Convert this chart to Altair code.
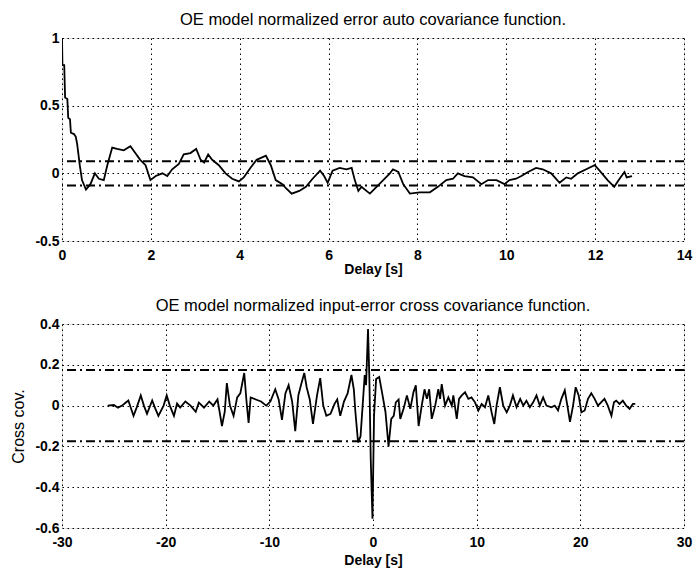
import altair as alt
import pandas as pd

# Auto covariance of the OE model residuals (delay in seconds, normalized value)
auto_delay = [0.0, 0.01, 0.05, 0.07, 0.12, 0.14, 0.18, 0.2, 0.27, 0.31, 0.34, 0.4, 0.45,
              0.54, 0.64, 0.74, 0.83, 0.94, 1.02, 1.13, 1.24, 1.39, 1.54, 1.65, 1.76,
              1.88, 1.99, 2.11, 2.26, 2.37, 2.48, 2.63, 2.74, 2.89, 3.02, 3.12, 3.2,
              3.29, 3.38, 3.53, 3.68, 3.83, 3.98, 4.09, 4.24, 4.38, 4.59, 4.7, 4.81,
              4.96, 5.04, 5.17, 5.34, 5.49, 5.64, 5.81, 5.9, 5.98, 6.09, 6.25, 6.4,
              6.52, 6.59, 6.67, 6.74, 6.93, 7.08, 7.23, 7.38, 7.45, 7.57, 7.68, 7.83,
              8.05, 8.28, 8.46, 8.65, 8.8, 8.91, 9.06, 9.25, 9.44, 9.59, 9.78, 9.96,
              10.07, 10.22, 10.34, 10.49, 10.67, 10.82, 11.01, 11.2, 11.35, 11.46,
              11.61, 11.8, 11.99, 12.1, 12.28, 12.43, 12.55, 12.66, 12.71, 12.83]
auto_value = [1.0, 0.8, 0.8, 0.56, 0.55, 0.41, 0.4, 0.3, 0.29, 0.27, 0.22, 0.06, -0.05,
              -0.12, -0.08, 0.0, -0.04, -0.05, 0.06, 0.19, 0.18, 0.17, 0.2, 0.15, 0.1,
              0.06, -0.05, -0.02, 0.0, -0.02, 0.03, 0.07, 0.14, 0.15, 0.18, 0.1, 0.08,
              0.14, 0.1, 0.06, 0.0, -0.04, -0.06, -0.03, 0.04, 0.1, 0.13, 0.06, -0.05,
              -0.08, -0.11, -0.15, -0.13, -0.1, -0.04, 0.02, -0.02, -0.07, 0.02, 0.04, 0.03,
              0.04, -0.05, -0.13, -0.1, -0.15, -0.1, -0.05, 0.0, 0.03, 0.01, -0.08, -0.15,
              -0.14, -0.14, -0.1, -0.05, -0.04, 0.0, -0.02, -0.03, -0.08, -0.05, -0.05, -0.08,
              -0.05, -0.04, -0.02, 0.01, 0.04, 0.03, 0.0, -0.07, -0.03, -0.04,
              0.0, 0.03, 0.06, 0.02, -0.05, -0.1, -0.04, 0.01, -0.03, -0.02]

# Input-error cross covariance
cross_delay = [-25.6, -25.0, -24.6, -24.2, -23.9, -23.6, -23.3, -23.1, -22.8, -22.4, -22.1,
               -21.8, -21.3, -21.0, -20.7, -20.2, -19.9, -19.6, -19.2, -18.9, -18.6, -18.1,
               -17.6, -17.1, -16.8, -16.3, -15.8, -15.4, -15.0, -14.8, -14.57, -14.3, -14.1,
               -13.8, -13.45, -13.1, -12.8, -12.42, -12.2, -12.0, -11.8, -11.3, -10.8, -10.3,
               -9.9, -9.43, -9.1, -8.78, -8.45, -8.14, -7.8, -7.5, -7.2, -6.9, -6.63, -6.4,
               -6.1, -5.79, -5.4, -5.09, -4.8, -4.5, -4.1, -3.7, -3.45, -3.16, -2.8, -2.45,
               -2.08, -1.85, -1.7, -1.44, -1.2, -1.0, -0.8, -0.67, -0.48, -0.35, -0.22,
               -0.05, 0.1, 0.3, 0.6, 0.87, 1.2, 1.5, 1.76, 2.0, 2.2, 2.47, 2.63, 2.95, 3.27,
               3.6, 3.9, 4.13, 4.4, 4.7, 4.97, 5.2, 5.42, 5.67, 6.0, 6.3, 6.47, 6.63, 6.95,
               7.27, 7.6, 7.75, 8.08, 8.3, 8.56, 8.88, 9.2, 9.5, 9.84, 10.16, 10.48, 10.8,
               11.12, 11.44, 11.7, 11.92, 12.24, 12.56, 12.9, 13.2, 13.5, 13.85, 14.2, 14.5,
               14.8, 15.13, 15.45, 15.77, 16.09, 16.41, 16.73, 17.2, 17.53, 17.85, 18.17,
               18.5, 18.75, 19.0, 19.3, 19.55, 19.84, 20.1, 20.42, 20.74, 21.06, 21.38, 21.7,
               22.0, 22.33, 22.65, 23.0, 23.24, 23.46, 23.78, 24.1, 24.42, 24.75, 25.07, 25.3]
cross_value = [0.0, 0.003, -0.01, 0.0, 0.013, 0.025, -0.02, -0.05, -0.01, 0.05, 0.0,
               -0.04, 0.025, -0.015, -0.05, 0.0, 0.05, 0.0, -0.05, 0.01, -0.01, 0.02,
               0.0, -0.03, 0.015, -0.01, 0.02, 0.0, 0.03, -0.03, -0.1, -0.03, 0.11,
               0.0, -0.05, 0.04, 0.06, 0.16, 0.02, -0.085, 0.04, 0.03, 0.02, 0.0,
               0.02, 0.08, 0.03, -0.07, 0.06, 0.1, 0.02, -0.125, 0.05, 0.11, 0.16, 0.09,
               0.03, -0.09, 0.05, 0.135, 0.0, -0.05, -0.04, 0.01, 0.03, -0.05, 0.02, 0.06,
               0.15, 0.08, -0.03, -0.18, -0.15, 0.0, 0.15, 0.1, 0.375, 0.13, -0.26,
               -0.555, -0.05, 0.13, 0.14, 0.065, -0.03, -0.2, -0.065, -0.05, 0.016, 0.03, -0.065, -0.016, 0.05,
               -0.016, 0.065, 0.1, -0.1, 0.0, 0.08, 0.033, 0.08, -0.065, 0.0, 0.08, 0.033, 0.105, 0.0,
               0.04, 0.0, 0.05, -0.065, 0.033, 0.05, 0.065, 0.033, 0.04, 0.016, -0.024, 0.008, -0.008,
               0.05, -0.033, -0.09, 0.0, 0.09, 0.0, -0.033, 0.0, 0.05, -0.008, 0.033, 0.0,
               0.024, -0.008, 0.016, 0.05, 0.0, 0.04, 0.0, -0.008, 0.0, -0.024, 0.033,
               0.075, 0.0, -0.08, 0.0, 0.09, 0.05, -0.033, -0.024, 0.033, 0.06, 0.033, 0.0,
               0.016, 0.033, 0.0, -0.05, 0.016, 0.024, 0.008, 0.024, 0.0, -0.016, 0.008, 0.008]

auto_conf = [0.09, -0.09]
cross_conf = [0.175, -0.175]

auto_xticks = [0, 2, 4, 6, 8, 10, 12, 14]
auto_yticks = [-0.5, 0, 0.5, 1]
cross_xticks = [-30, -20, -10, 0, 10, 20, 30]
cross_yticks = [-0.6, -0.4, -0.2, 0, 0.2, 0.4]

FONT = "Liberation Sans"
DOT = [1.5, 3.5]
DASHDOT = [9, 4, 2, 4]
W = 622


def axis(values, title=None, title_pad=0, title_size=14, title_weight="bold", label_pad=3):
    kw = dict(values=values, grid=True, gridDash=DOT, gridColor="black", gridWidth=1,
              gridOpacity=1, ticks=False, domain=False, labelFont=FONT, labelFontSize=14,
              labelFontWeight="bold", labelColor="black", labelExpr="'' + datum.value",
              labelPadding=label_pad, labelFlush=False, labelOverlap=False)
    if title is not None:
        kw.update(title=title, titleFont=FONT, titleColor="black", titlePadding=title_pad,
                  titleFontSize=title_size, titleFontWeight=title_weight)
    else:
        kw.update(title=None)
    return alt.Axis(**kw)


def panel(delay, value, conf, xdom, ydom, xticks, yticks, title, ytitle, height, xtitle_pad):
    line_df = pd.DataFrame({"delay": delay, "value": value})
    conf_df = pd.DataFrame({"level": conf})
    x = alt.X("delay:Q", scale=alt.Scale(domain=xdom, nice=False, zero=False),
              axis=axis(xticks, "Delay [s]", title_pad=xtitle_pad, label_pad=7))
    if ytitle:
        yax = axis(yticks, ytitle, 8, 16, "normal")
    else:
        yax = axis(yticks)
    y = alt.Y("value:Q", scale=alt.Scale(domain=ydom, nice=False, zero=False), axis=yax)
    curve = alt.Chart(line_df).mark_line(color="black", strokeWidth=1.8, clip=True).encode(x=x, y=y)
    bands = alt.Chart(conf_df).mark_rule(color="black", strokeWidth=2, strokeDash=DASHDOT).encode(
        y=alt.Y("level:Q", scale=alt.Scale(domain=ydom, nice=False, zero=False))
    )
    return alt.layer(bands, curve).properties(
        width=W, height=height,
        title=alt.TitleParams(title, font=FONT, fontSize=16.5, fontWeight="normal",
                              color="black", offset=3, anchor="middle"),
    )


top = panel(auto_delay, auto_value, auto_conf, [0, 14], [-0.5, 1], auto_xticks, auto_yticks,
            "OE model normalized error auto covariance function.", None, 203, 0)
bottom = panel(cross_delay, cross_value, cross_conf, [-30, 30], [-0.6, 0.4], cross_xticks,
               cross_yticks, "OE model normalized input-error cross covariance function.",
               "Cross cov.", 204, 4)

chart = alt.vconcat(top, bottom, spacing=20).properties(
    padding={"left": 10, "top": 11, "right": 0, "bottom": 0}
).configure_view(stroke="black", strokeWidth=1.5).configure(background="white")

chart.save("out.html", embed_options={"renderer": "svg", "actions": False})
